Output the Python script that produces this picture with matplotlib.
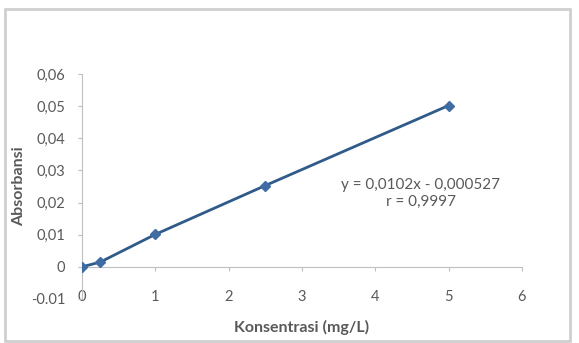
import matplotlib.pyplot as plt
from matplotlib.patches import Rectangle

# Data
konsentrasi = [0, 0.25, 1, 2.5, 5]
absorbansi = [0, 0.0015, 0.0101, 0.0253, 0.0502]
y_ticks = [-0.01, 0, 0.01, 0.02, 0.03, 0.04, 0.05, 0.06]
y_labels = ['-0.01', '0', '0,01', '0,02', '0,03', '0,04', '0,05', '0,06']
x_ticks = [0, 1, 2, 3, 4, 5, 6]
eq_text = 'y = 0,0102x - 0,000527\nr = 0,9997'

plt.rcParams['font.family'] = ['Lato', 'DejaVu Sans']
grey = '#595959'

fig = plt.figure(figsize=(5.79, 3.43), dpi=100)
fig.patches.append(Rectangle((5 / 579, 2 / 343), 565 / 579, 332 / 343,
                             transform=fig.transFigure, fill=False,
                             edgecolor='#cfcfcf', linewidth=2))

ax = fig.add_axes([82 / 579, 1 - 299 / 343, 440 / 579, 225 / 343])
ax.plot(konsentrasi, absorbansi, color='#2f5a8a', linewidth=2,
        marker='D', markersize=5.5, markerfacecolor='#3f6ca3',
        markeredgecolor='#3f6ca3', zorder=3)

ax.set_xlim(0, 6)
ax.set_ylim(-0.01, 0.06)
ax.set_xticks(x_ticks)
ax.set_yticks(y_ticks)
ax.set_yticklabels(y_labels)

for s in ['top', 'right']:
    ax.spines[s].set_visible(False)
ax.spines['bottom'].set_position(('data', 0))
ax.spines['bottom'].set_color('#bfbfbf')
ax.spines['left'].set_color('#bfbfbf')
ax.tick_params(axis='x', colors='#bfbfbf', labelcolor=grey, labelsize=10.5,
               length=3, pad=14)
ax.tick_params(axis='y', colors='#bfbfbf', labelcolor=grey, labelsize=10.5,
               length=3, pad=9)

ax.set_xlabel('Konsentrasi (mg/L)', fontsize=11.5, fontweight='bold', color=grey)
ax.xaxis.set_label_coords(0.5, -0.095)
ax.set_ylabel('Absorbansi', fontsize=11.5, fontweight='bold', color=grey)
ax.yaxis.set_label_coords(-0.128, 0.5)

ax.text(4.62, 0.0229, eq_text, ha='center', va='center', fontsize=11,
        color=grey, linespacing=1.25)

fig.savefig('out.png', dpi=100)
